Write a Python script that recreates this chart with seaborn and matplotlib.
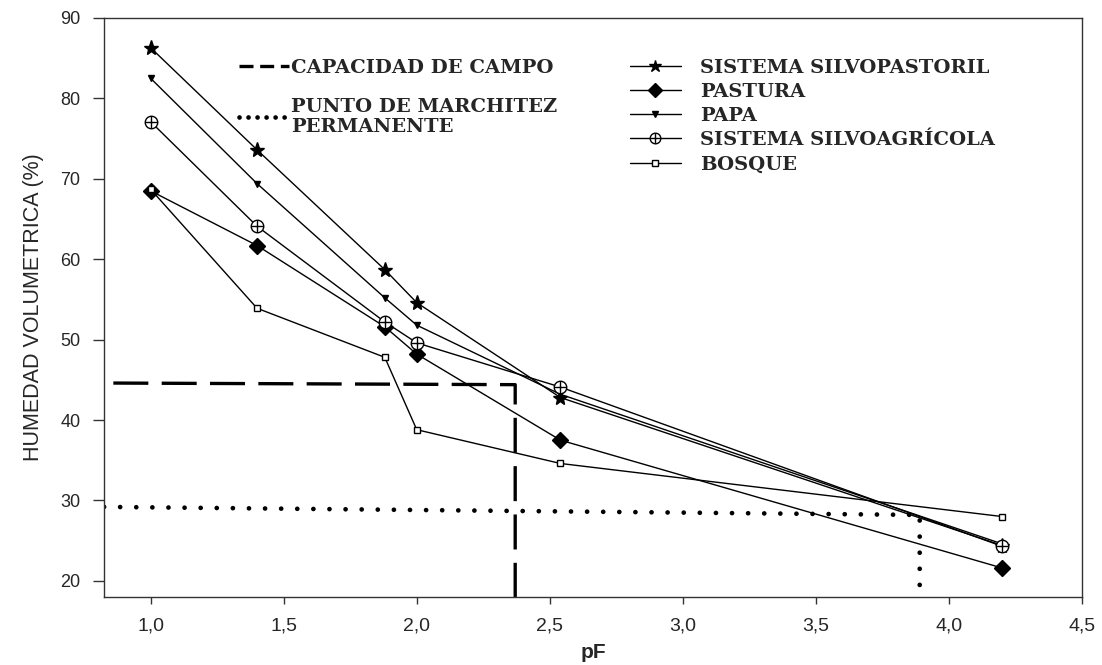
import matplotlib
matplotlib.use("Agg")
import matplotlib.pyplot as plt
import seaborn as sns
import pandas as pd
from matplotlib.lines import Line2D

pf = [1.0, 1.4, 1.88, 2.0, 2.54, 4.2]
silvopastoril = [86.3, 73.6, 58.7, 54.6, 42.8, 24.4]
pastura = [68.5, 61.7, 51.6, 48.2, 37.5, 21.6]
papa = [82.5, 69.4, 55.2, 51.8, 43.2, 24.6]
silvoagricola = [77.1, 64.1, 52.2, 49.6, 44.1, 24.3]
bosque = [68.7, 53.9, 47.8, 38.8, 34.6, 28.0]

cc_x = [0.86, 2.37, 2.37]
cc_y = [44.6, 44.4, 18.0]
pmp_x = [0.825, 3.89, 3.89]
pmp_y = [29.2, 28.2, 18.0]

xticks = [1.0, 1.5, 2.0, 2.5, 3.0, 3.5, 4.0, 4.5]
xticklabels = ["1,0", "1,5", "2,0", "2,5", "3,0", "3,5", "4,0", "4,5"]
yticks = [20, 30, 40, 50, 60, 70, 80, 90]

sns.set_theme(style="ticks")
plt.rcParams["font.family"] = ["Liberation Sans", "DejaVu Sans"]

fig = plt.figure(figsize=(11.02, 6.65), dpi=100)
ax = fig.add_axes([0.0944, 0.1023, 0.8875, 0.8707])

series = [
    ("SISTEMA SILVOPASTORIL", silvopastoril, "*", 11, "black"),
    ("PASTURA", pastura, "D", 8, "black"),
    ("PAPA", papa, "v", 5, "black"),
    ("SISTEMA SILVOAGRÍCOLA", silvoagricola, "o", 9, "white"),
    ("BOSQUE", bosque, "s", 5, "white"),
]
for name, vals, m, ms, fc in series:
    df = pd.DataFrame({"pF": pf, "hum": vals})
    sns.lineplot(data=df, x="pF", y="hum", ax=ax, color="black", linewidth=1.0,
                 marker=m, markersize=ms, markerfacecolor=fc,
                 markeredgecolor="black", markeredgewidth=1.0, zorder=3)
    if m == "o":
        sns.scatterplot(data=df, x="pF", y="hum", ax=ax, marker="+", s=80,
                        color="black", linewidth=1.0, zorder=4)

ax.plot(cc_x, cc_y, color="black", linewidth=2.4, dashes=(10.5, 4), zorder=2)
ax.plot(pmp_x, pmp_y, color="black", linewidth=3.4, dashes=(0.01, 3.4),
        dash_capstyle="round", zorder=2)

ax.set_xlim(0.825, 4.5)
ax.set_ylim(18.0, 90)
ax.set_xticks(xticks)
ax.set_xticklabels(xticklabels)
ax.set_yticks(yticks)
ax.tick_params(axis="x", labelsize=14, length=5, width=1, color="#333333", pad=10)
ax.tick_params(axis="y", labelsize=13, length=8, width=1, color="#333333", pad=9)
for s in ax.spines.values():
    s.set_linewidth(1.0)
    s.set_color("#333333")
    s.set_visible(True)
ax.set_xlabel("pF", fontsize=15, fontweight="bold", labelpad=6)
ax.set_ylabel("HUMEDAD VOLUMETRICA (%)", fontsize=15.5, labelpad=12)

serif = ["DejaVu Serif"]
h1 = [Line2D([], [], color="black", linewidth=2.4, dashes=(4.2, 2)),
      Line2D([], [], color="black", linewidth=3.4, dashes=(0.01, 1.9), dash_capstyle="round")]
leg1 = ax.legend(h1, ["CAPACIDAD DE CAMPO", "PUNTO DE MARCHITEZ\nPERMANENTE"],
                 loc="upper left", bbox_to_anchor=(0.12, 0.96), frameon=False,
                 handlelength=2.6, handletextpad=0.1, labelspacing=1.08,
                 prop={"family": serif, "weight": "bold", "size": 14})
ax.add_artist(leg1)

h2 = []
for name, vals, m, ms, fc in series:
    base = Line2D([], [], color="black", linewidth=1.0, marker=m,
                  markersize=ms * 0.85, markerfacecolor=fc, markeredgecolor="black")
    if m == "o":
        cross = Line2D([], [], color="black", linewidth=0, marker="+",
                       markersize=ms * 0.85, markeredgewidth=1.0)
        h2.append((base, cross))
    else:
        h2.append(base)
leg2 = ax.legend(h2, [s[0] for s in series], loc="upper left",
                 bbox_to_anchor=(0.52, 0.96), frameon=False,
                 handlelength=2.6, handletextpad=1.0, labelspacing=0.32,
                 prop={"family": serif, "weight": "bold", "size": 14})

fig.savefig("out.png", dpi=100)
